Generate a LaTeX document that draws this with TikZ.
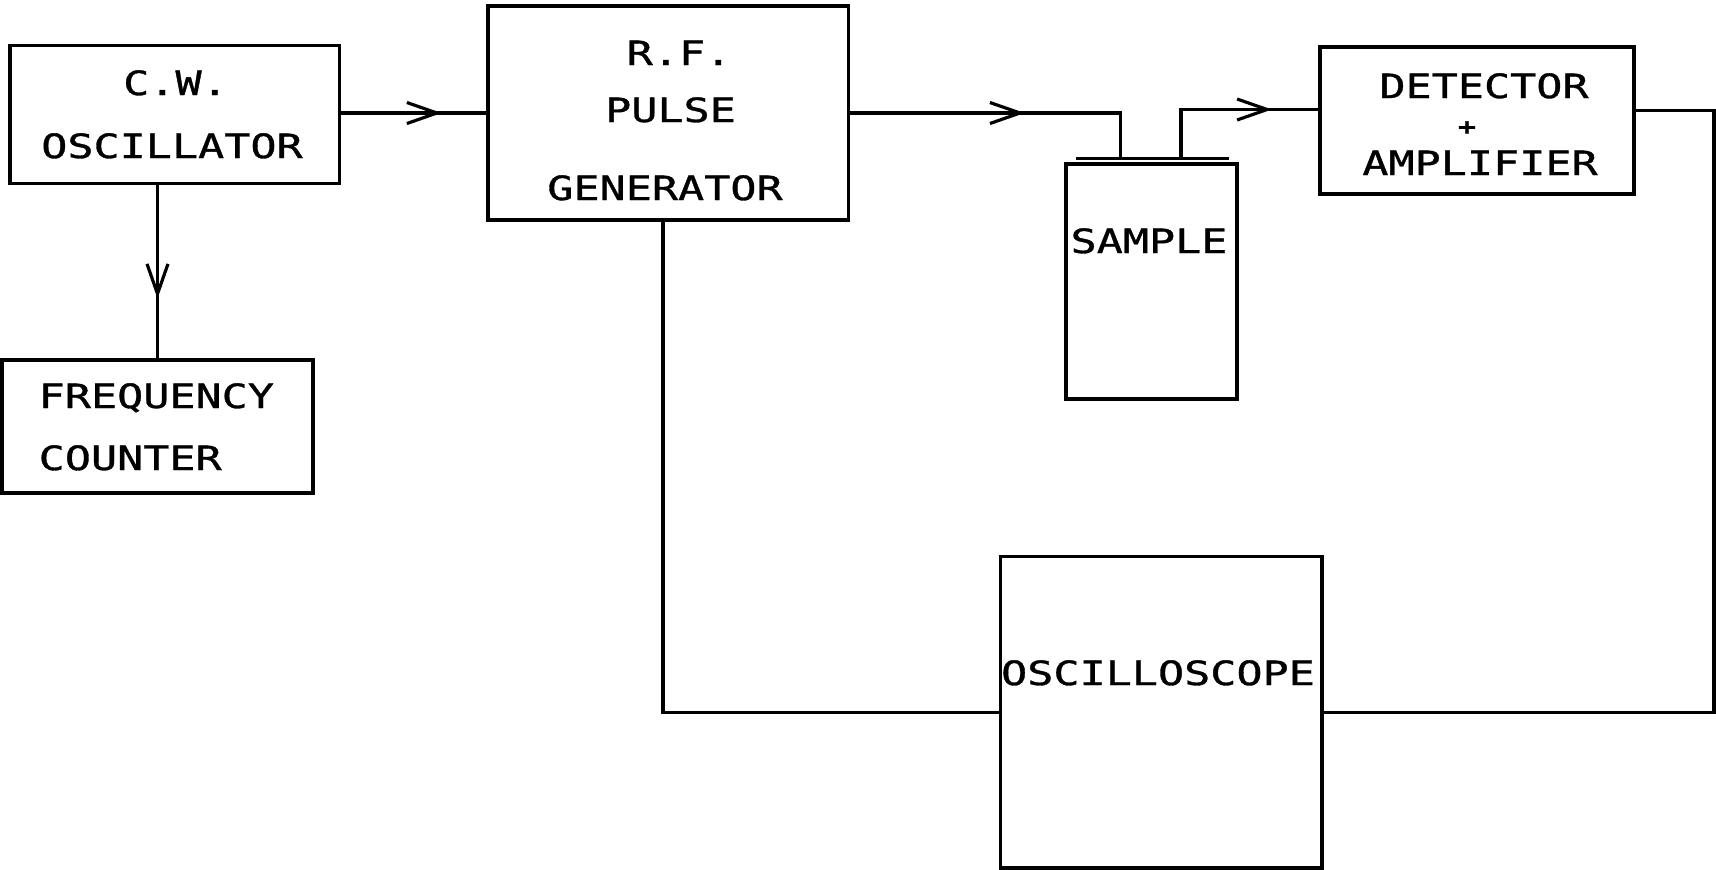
\documentclass[tikz,border=0pt]{standalone}
\usepackage{fontspec}
\newfontfamily\lettering[FakeStretch=1.3,FakeBold=1]{DejaVu Sans Mono}
\usetikzlibrary{decorations.markings,calc}
\begin{document}
\begin{tikzpicture}[x=0.01cm,y=-0.01cm,
  box/.style={draw, line width=1pt, inner sep=0pt},
  conn/.style={line width=0.9pt},
  lbl/.style={font={\lettering\fontsize{9.5pt}{11pt}\selectfont}, inner sep=0pt, anchor=base},
  chev/.style={postaction={decorate,decoration={markings,mark=at position #1 with {\draw[line width=0.9pt] (-0.3cm,0.105cm) -- (0,0) -- (-0.3cm,-0.105cm);}}}}]
\useasboundingbox (0,0) rectangle (1716,869);
% boxes
\node[box, minimum width=3.295cm, minimum height=1.376cm] (cw) at (174.75,114.5) {};
\node[box, minimum width=3.605cm, minimum height=2.14cm] (rf) at (668.25,113) {};
\node[box, minimum width=3.11cm, minimum height=1.33cm] (fc) at (157.5,426.5) {};
\node[box, minimum width=1.71cm, minimum height=2.35cm] (sample) at (1151.5,281.5) {};
\node[box, minimum width=3.14cm, minimum height=1.47cm] (det) at (1477,120.5) {};
\node[box, minimum width=3.213cm, minimum height=3.11cm] (osc) at (1161.35,712.2) {};
% labels
\node[lbl] (cwa) at (175.5,95) {C.W.};
\node[lbl] (cwb) at (172,158) {OSCILLATOR};
\node[lbl] (rfa) at (679,65) {R.F.};
\node[lbl] (rfb) at (670.5,122) {PULSE};
\node[lbl] (rfc) at (665,200) {GENERATOR};
\node[lbl, anchor=base west] (fca) at (38,408) {FREQUENCY};
\node[lbl, anchor=base west] (fcb) at (38,470) {COUNTER};
\node[lbl] (deta) at (1484,98) {DETECTOR};
\node[inner sep=0pt, font={\lettering\bfseries\fontsize{6.5pt}{7pt}\selectfont}] (detp) at (1467,128) {+};
\node[lbl] (detb) at (1480,175) {AMPLIFIER};
\node[lbl] (samt) at (1149,253) {SAMPLE};
\node[lbl] (osct) at (1158,685) {OSCILLOSCOPE};
% sample cap and leads
\coordinate (capw) at (1076,158.7);
\coordinate (cape) at (1229,158.7);
\coordinate (lead1) at (1120.4,158.7);
\coordinate (lead2) at (1181,158.7);
\draw[line width=1pt] (capw) -- (cape);
\coordinate (rx) at (1714,0);
\coordinate (lx) at (663,0);
\coordinate (cwo) at ($(cw.east)+(0,-1.5)$);
\coordinate (deto) at ($(det.east)+(0,-10)$);
\coordinate (deti) at ($(det.west)+(0,-11)$);
% connectors
\draw[conn, chev=0.955cm] (cwo) -- (cwo -| rf.west);
\draw[conn, chev=1.087cm] (fc.north |- cw.south) -- (fc.north);
\draw[conn, chev=1.695cm] (rf.east) -- (rf.east -| lead1) -- (lead1);
\draw[conn, chev=1.352cm] (lead2) |- (deti);
\draw[conn] (deto) -| (rx |- osc.east) -- (osc.east);
\draw[conn] (rf.south -| lx) |- (osc.west);
\end{tikzpicture}
\end{document}
